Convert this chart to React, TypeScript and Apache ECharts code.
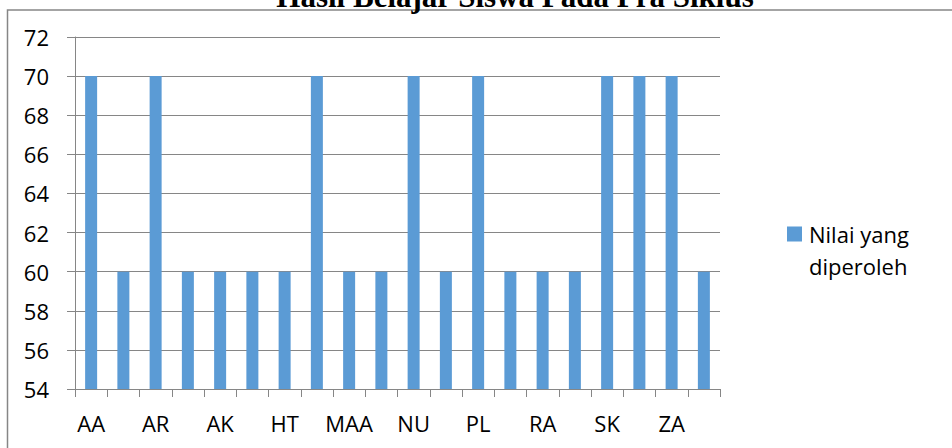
import React, { useEffect, useRef } from "react";
import * as echarts from "echarts";

const titleText = "Hasil Belajar Siswa Pada Pra Siklus";
const seriesName = "Nilai yang diperoleh";
const legendLines = ["Nilai yang", "diperoleh"];
const categories = [
  "AA", "AF", "AR", "AS", "AK", "AM", "HT", "IR", "MAA", "MF",
  "NU", "NA", "PL", "PA", "RA", "RF", "SK", "SN", "ZA", "ZH",
];
const values = [70, 60, 70, 60, 60, 60, 60, 70, 60, 60, 70, 60, 70, 60, 60, 60, 70, 70, 70, 60];
const yMin = 54;
const yMax = 72;
const yStep = 2;

const GRAY = "#868686";
const FONT = "'Open Sans', 'Noto Sans', sans-serif";

export default function App() {
  const ref = useRef<HTMLDivElement>(null);
  useEffect(() => {
    document.body.style.margin = "0";
    if (!ref.current) return;
    const chart = echarts.init(ref.current, null, { renderer: "svg" });
    chart.setOption({
      animation: false,
      backgroundColor: "#ffffff",
      grid: { left: 75, right: 232, top: 37, bottom: 59, containLabel: false },
      legend: {
        show: true,
        left: 787,
        top: 218,
        padding: 0,
        itemWidth: 15,
        itemHeight: 47,
        icon: "path://M0,0H15V15H0Z M0,46.99H0.01V47H0Z",
        formatter: () => legendLines.join("\n"),
        textStyle: {
          fontFamily: FONT,
          fontSize: 22,
          color: "#000",
          lineHeight: 32,
          padding: [0, 0, 0, 2],
        },
        data: [seriesName],
      },
      xAxis: {
        type: "category",
        data: categories,
        boundaryGap: true,
        axisLine: { show: true, lineStyle: { color: GRAY, width: 1 } },
        axisTick: { show: true, interval: 0, length: 8, lineStyle: { color: GRAY } },
        axisLabel: {
          interval: 1,
          margin: 23,
          fontFamily: FONT,
          fontSize: 22,
          color: "#000",
        },
        splitLine: { show: false },
      },
      yAxis: {
        type: "value",
        min: yMin,
        max: yMax,
        interval: yStep,
        axisLine: { show: true, lineStyle: { color: GRAY, width: 1 } },
        axisTick: { show: true, length: 8, lineStyle: { color: GRAY } },
        axisLabel: {
          margin: 26,
          fontFamily: FONT,
          fontSize: 22,
          color: "#000",
        },
        splitLine: { show: true, lineStyle: { color: GRAY, width: 1 } },
      },
      series: [
        {
          name: seriesName,
          type: "bar",
          data: values,
          barWidth: 12,
          itemStyle: { color: "#5B9BD5" },
        },
      ],
      graphic: [
        {
          type: "rect",
          shape: { x: 7.5, y: 10, width: 1200, height: 1200 },
          style: { fill: "none", stroke: GRAY, lineWidth: 1.5 },
          silent: true,
          z: -1,
        },
        {
          type: "text",
          x: 515,
          y: -3.5,
          style: {
            text: titleText,
            fontFamily: "'Liberation Serif', 'Times New Roman', serif",
            fontWeight: "bold",
            fontSize: 31,
            fill: "#000",
            textAlign: "center",
            textVerticalAlign: "middle",
          },
          z: 10,
        },
      ],
    });
    return () => chart.dispose();
  }, []);
  return <div ref={ref} style={{ width: 952, height: 448 }} />;
}
